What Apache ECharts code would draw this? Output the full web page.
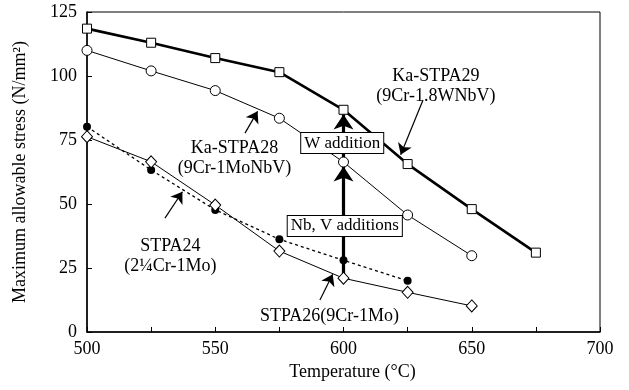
<!DOCTYPE html>
<html><head><meta charset="utf-8">
<script src="https://cdn.jsdelivr.net/npm/echarts@6/dist/echarts.min.js"></script>
<style>html,body{margin:0;padding:0;background:#fff}#c{width:629px;height:390px}</style>
</head><body><div id="c"></div>
<script>
var temps = [500, 525, 550, 575, 600, 625, 650, 675];
var stpa29 = [118.5, 113, 107, 101.5, 86.8, 65.6, 48, 31];
var stpa28 = [110, 102, 94.3, 83.5, 66.4, 45.7, 29.8];
var stpa24 = [80.2, 63.3, 47.7, 36.2, 28, 20];
var stpa26 = [76.3, 66.5, 49.6, 31.6, 21, 15.5, 10.2];
var xTicks = [500, 550, 600, 650, 700];
var yTicks = [0, 25, 50, 75, 100, 125];

function pairs(vals){ return vals.map(function(v,i){ return [temps[i], v]; }); }
var FONT = 'Liberation Serif';

// annotation texts (data coords)
var notes = [
  {value:[636, 96], text:'Ka-STPA29\n(9Cr-1.8WNbV)'},
  {value:[557.5, 67.8], text:'Ka-STPA28\n(9Cr-1MoNbV)'},
  {value:[532.5, 29.7], text:'STPA24\n(2\u00BCCr-1Mo)'},
  {value:[594.5, 6.3], text:'STPA26(9Cr-1Mo)'}
];
var boxes = [
  {value:[599.5, 73.8], text:'W addition'},
  {value:[600.5, 41.4], text:'Nb, V additions'}
];
var thinArrows = [
  [[631, 90.6], [622.3, 69.2]],
  [[561.6, 77.7], [566.5, 86.2]],
  [[530.4, 44.5], [537.2, 54.8]],
  [[590.8, 12.5], [595.8, 22.6]]
];
var thickArrows = [
  [[600, 21], [600, 64.6]],
  [[600, 68.2], [600, 85.0]]
];

var chart = echarts.init(document.getElementById('c'));
chart.setOption({
  animation: false,
  grid: {left: 87, right: 29, top: 12, bottom: 58, show: true, borderColor: '#000', borderWidth: 1, backgroundColor: 'transparent'},
  xAxis: {
    type: 'value', min: 500, max: 700, interval: 25,
    name: 'Temperature (\u00B0C)', nameLocation: 'middle', nameGap: 30,
    nameTextStyle: {fontFamily: FONT, fontSize: 18, color: '#000', padding: [0,0,0,18]},
    axisLine: {lineStyle: {color: '#000', width: 1.5}},
    axisTick: {inside: true, length: 5, lineStyle: {color: '#000'}},
    axisLabel: {fontFamily: FONT, fontSize: 18, color: '#000', margin: 8,
      formatter: function(v){ return xTicks.indexOf(v) >= 0 ? String(v) : ''; }},
    splitLine: {show: false}
  },
  yAxis: {
    type: 'value', min: 0, max: 125, interval: 25,
    name: 'Maximum allowable stress (N/mm\u00B2)', nameLocation: 'middle', nameGap: 58,
    nameTextStyle: {fontFamily: FONT, fontSize: 18, color: '#000'},
    axisLine: {lineStyle: {color: '#000', width: 1.5}},
    axisTick: {inside: true, length: 5, lineStyle: {color: '#000'}},
    axisLabel: {fontFamily: FONT, fontSize: 18, color: '#000', margin: 10,
      formatter: function(v){ return yTicks.indexOf(v) >= 0 ? String(v) : ''; }},
    splitLine: {show: false}
  },
  series: [
    {type: 'line', name: 'STPA24', data: pairs(stpa24), symbol: 'circle', symbolSize: 8,
     lineStyle: {color: '#000', width: 1.3, type: [3, 3]}, itemStyle: {color: '#000'}, z: 3},
    {type: 'line', name: 'STPA26', data: pairs(stpa26), symbol: 'diamond', symbolSize: [11, 12],
     lineStyle: {color: '#000', width: 1}, itemStyle: {color: '#fff', borderColor: '#000', borderWidth: 1}, z: 4},
    {type: 'line', name: 'Ka-STPA28', data: pairs(stpa28), symbol: 'circle', symbolSize: 10,
     lineStyle: {color: '#000', width: 1}, itemStyle: {color: '#fff', borderColor: '#000', borderWidth: 1}, z: 4},
    {type: 'line', name: 'Ka-STPA29', data: pairs(stpa29), symbol: 'rect', symbolSize: 9,
     lineStyle: {color: '#000', width: 2.6}, itemStyle: {color: '#fff', borderColor: '#000', borderWidth: 1}, z: 4},
    {type: 'lines', coordinateSystem: 'cartesian2d', z: 5,
     symbol: ['none', 'arrow'], symbolSize: [7, 11],
     lineStyle: {color: '#000', width: 1.2, opacity: 1},
     data: thinArrows.map(function(c){ return {coords: c}; })},
    {type: 'lines', coordinateSystem: 'cartesian2d', z: 2,
     symbol: ['none', 'arrow'], symbolSize: [10, 15],
     lineStyle: {color: '#000', width: 3.2, opacity: 1},
     data: thickArrows.map(function(c){ return {coords: c}; })},
    {type: 'scatter', symbolSize: 0, z: 6, silent: true, itemStyle: {color: '#000', opacity: 1},
     data: notes.map(function(n){ return {value: n.value, label: {formatter: n.text}}; }),
     label: {show: true, position: 'inside', fontFamily: FONT, fontSize: 18, color: '#000', textBorderWidth: 0, lineHeight: 20, align: 'center', verticalAlign: 'middle'}},
    {type: 'scatter', symbolSize: 0, z: 7, silent: true, itemStyle: {color: '#000', opacity: 1},
     data: boxes.map(function(n){ return {value: n.value, label: {formatter: n.text}}; }),
     label: {show: true, position: 'inside', fontFamily: FONT, fontSize: 17, color: '#000', textBorderWidth: 0, opacity: 1, align: 'center', verticalAlign: 'middle',
       backgroundColor: '#fff', borderColor: '#000', borderWidth: 1, padding: [2, 3, 1, 3]}}
  ]
});
</script></body></html>
